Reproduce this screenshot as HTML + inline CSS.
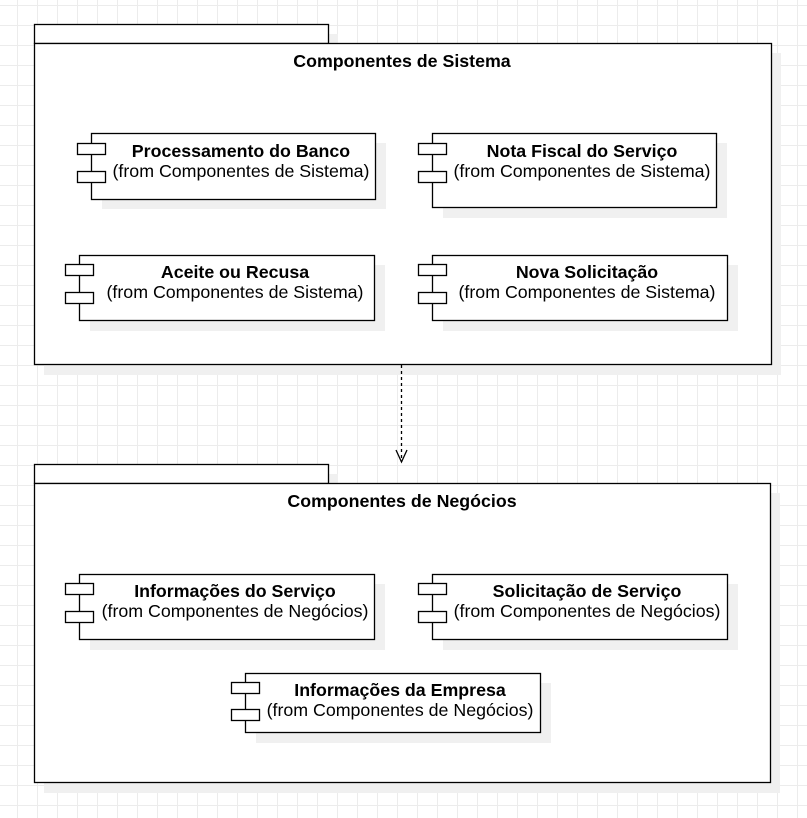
<!DOCTYPE html>
<html><head><meta charset="utf-8"><style>
html,body{margin:0;padding:0;background:#fff;}
svg{display:block;}
text{font-family:"Liberation Sans",Arial,sans-serif;font-size:17.8px;fill:#000;}
.b{font-weight:bold;}
</style></head><body>
<svg width="807" height="818" viewBox="0 0 807 818" xmlns="http://www.w3.org/2000/svg">
<defs>
<pattern id="g" width="20" height="20" patternUnits="userSpaceOnUse" x="-3" y="5">
<path d="M0 0.5H20M0.5 0V20" stroke="#ececec" stroke-width="1" fill="none"/>
</pattern>
</defs>
<rect width="807" height="818" fill="url(#g)"/>

<!-- Package 1 -->
<rect x="44" y="34" width="294" height="19" fill="#f0f0f0"/>
<rect x="44" y="53" width="737" height="322" fill="#f0f0f0"/>
<rect x="34.5" y="24.5" width="294" height="19" fill="#fff" stroke="#000" stroke-width="1.3"/>
<rect x="34.5" y="43.5" width="737" height="321" fill="#fff" stroke="#000" stroke-width="1.3"/>
<text class="b" x="402" y="67" text-anchor="middle">Componentes de Sistema</text>

<!-- Package 2 -->
<rect x="44" y="474" width="294" height="19" fill="#f0f0f0"/>
<rect x="44" y="493" width="736" height="300" fill="#f0f0f0"/>
<rect x="34.5" y="464.5" width="294" height="19" fill="#fff" stroke="#000" stroke-width="1.3"/>
<rect x="34.5" y="483.5" width="736" height="299" fill="#fff" stroke="#000" stroke-width="1.3"/>
<text class="b" x="402" y="507" text-anchor="middle">Componentes de Negócios</text>

<!-- connector -->
<line x1="401.5" y1="365" x2="401.5" y2="462" stroke="#000" stroke-width="1.3" stroke-dasharray="3,3"/>
<path d="M396 450 L401.5 462 L407 450" fill="none" stroke="#000" stroke-width="1.3"/>

<!-- components -->
<g stroke="#000" stroke-width="1.3">
<rect x="102" y="143" width="284" height="66" fill="#f0f0f0" stroke="none"/>
<rect x="91.5" y="133.5" width="284" height="66" fill="#fff"/>
<rect x="77.5" y="143.5" width="28" height="11" fill="#fff"/>
<rect x="77.5" y="171.5" width="28" height="11" fill="#fff"/>
<rect x="443" y="143" width="284" height="75" fill="#f0f0f0" stroke="none"/>
<rect x="432.5" y="133.5" width="284" height="74" fill="#fff"/>
<rect x="418.5" y="143.5" width="28" height="11" fill="#fff"/>
<rect x="418.5" y="171.5" width="28" height="11" fill="#fff"/>
<rect x="90" y="265" width="295" height="66" fill="#f0f0f0" stroke="none"/>
<rect x="79.5" y="255.5" width="295" height="65" fill="#fff"/>
<rect x="65.5" y="264.5" width="28" height="11" fill="#fff"/>
<rect x="65.5" y="292.5" width="28" height="11" fill="#fff"/>
<rect x="443" y="265" width="295" height="66" fill="#f0f0f0" stroke="none"/>
<rect x="432.5" y="255.5" width="295" height="65" fill="#fff"/>
<rect x="418.5" y="264.5" width="28" height="11" fill="#fff"/>
<rect x="418.5" y="292.5" width="28" height="11" fill="#fff"/>
<rect x="90" y="584" width="295" height="66" fill="#f0f0f0" stroke="none"/>
<rect x="79.5" y="574.5" width="295" height="65" fill="#fff"/>
<rect x="65.5" y="583.5" width="28" height="11" fill="#fff"/>
<rect x="65.5" y="611.5" width="28" height="11" fill="#fff"/>
<rect x="443" y="584" width="295" height="66" fill="#f0f0f0" stroke="none"/>
<rect x="432.5" y="574.5" width="295" height="65" fill="#fff"/>
<rect x="418.5" y="583.5" width="28" height="11" fill="#fff"/>
<rect x="418.5" y="611.5" width="28" height="11" fill="#fff"/>
<rect x="256" y="683" width="295" height="60" fill="#f0f0f0" stroke="none"/>
<rect x="245.5" y="673.5" width="295" height="59" fill="#fff"/>
<rect x="231.5" y="682.5" width="28" height="11" fill="#fff"/>
<rect x="231.5" y="709.5" width="28" height="11" fill="#fff"/>
</g>

<text class="b" x="241" y="157" text-anchor="middle">Processamento do Banco</text>
<text x="241" y="177" text-anchor="middle">(from Componentes de Sistema)</text>
<text class="b" x="582" y="157" text-anchor="middle">Nota Fiscal do Serviço</text>
<text x="582" y="177" text-anchor="middle">(from Componentes de Sistema)</text>
<text class="b" x="235" y="278" text-anchor="middle">Aceite ou Recusa</text>
<text x="235" y="298" text-anchor="middle">(from Componentes de Sistema)</text>
<text class="b" x="587" y="278" text-anchor="middle">Nova Solicitação</text>
<text x="587" y="298" text-anchor="middle">(from Componentes de Sistema)</text>
<text class="b" x="235" y="597" text-anchor="middle">Informações do Serviço</text>
<text x="235" y="617" text-anchor="middle">(from Componentes de Negócios)</text>
<text class="b" x="587" y="597" text-anchor="middle">Solicitação de Serviço</text>
<text x="587" y="617" text-anchor="middle">(from Componentes de Negócios)</text>
<text class="b" x="400" y="696" text-anchor="middle">Informações da Empresa</text>
<text x="400" y="716" text-anchor="middle">(from Componentes de Negócios)</text>
</svg>
</body></html>
